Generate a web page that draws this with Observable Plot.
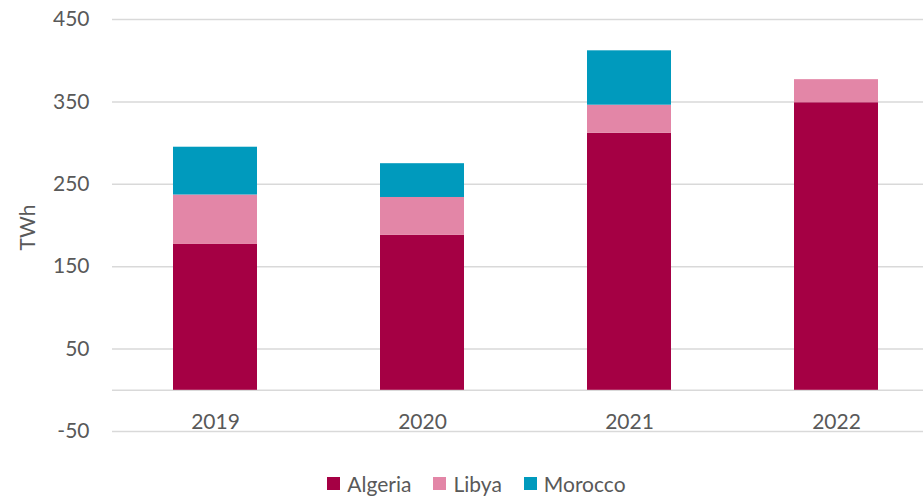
<!DOCTYPE html>
<html>
<head>
<meta charset="utf-8">
<script src="https://cdn.jsdelivr.net/npm/d3@7"></script>
<script src="https://cdn.jsdelivr.net/npm/@observablehq/plot@0.6"></script>
<style>
  body { margin: 0; background: #fff; font-family: Lato, sans-serif; }
  #legend { display: flex; justify-content: center; align-items: center; height: 36px; font-size: 21px; color: #595959; padding-left: 30px; }
  #legend span.item { display: inline-flex; align-items: center; margin: 0 11px; }
  #legend span.sw { width: 13px; height: 13px; display: inline-block; margin-right: 7px; }
</style>
</head>
<body>
<div id="chart"></div>
<div id="legend"></div>
<script>
const years = ["2019", "2020", "2021", "2022"];
const series = ["Algeria", "Libya", "Morocco"];
const algeria = [177, 188, 312, 349];
const libya = [60, 46, 34, 28];
const morocco = [58, 41, 66, 0];
const colors = ["#A50044", "#E386A7", "#009ABD"];
const yTicks = [-50, 50, 150, 250, 350, 450];

const values = [algeria, libya, morocco];
const data = [];
series.forEach((s, si) => years.forEach((y, yi) => data.push({year: y, country: s, value: values[si][yi]})));

const chart = Plot.plot({
  width: 923,
  height: 465,
  marginLeft: 112,
  marginRight: 0,
  marginTop: 19,
  marginBottom: 34,
  style: {fontFamily: "Lato, sans-serif", fontSize: "21px", color: "#595959", background: "#fff"},
  x: {domain: years, range: [112, 940], paddingInner: 0.594, paddingOuter: 0.297, axis: null},
  y: {domain: [-50, 450], ticks: yTicks, axis: null},
  color: {domain: series, range: colors},
  marks: [
    Plot.ruleY(yTicks, {stroke: "#d9d9d9", strokeWidth: 1.5}),
    Plot.ruleY([0], {stroke: "#d9d9d9", strokeWidth: 1.5}),
    Plot.barY(data, {x: "year", y: "value", fill: "country", order: series}),
    Plot.axisY(yTicks, {tickSize: 0, tickPadding: 23, tickFormat: d => String(d), fill: "#595959", fontSize: 21, label: null}),
    Plot.text(years, {x: d => d, y: -50, dy: -9, fill: "#595959", fontSize: 21}),
    Plot.text(["TWh"], {frameAnchor: "left", textAnchor: "middle", dx: -84, dy: 2, rotate: -90, fill: "#595959", fontSize: 21})
  ]
});
document.getElementById("chart").appendChild(chart);

const legend = document.getElementById("legend");
series.forEach((s, i) => {
  const item = document.createElement("span");
  item.className = "item";
  item.innerHTML = `<span class="sw" style="background:${colors[i]}"></span>${s}`;
  legend.appendChild(item);
});
</script>
</body>
</html>
